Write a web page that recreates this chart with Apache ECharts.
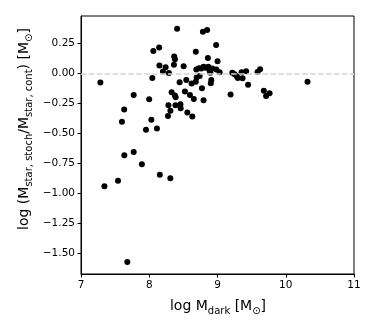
<!DOCTYPE html>
<html>
<head>
<meta charset="utf-8">
<script src="https://cdn.jsdelivr.net/npm/echarts@6/dist/echarts.min.js"></script>
<style>html,body{margin:0;padding:0;background:#fff;}#c{width:374px;height:332px;}</style>
</head>
<body>
<div id="c"></div>
<script>
// log M_dark values
const logMdark = [
  7.284, 8.408, 8.786, 8.848, 8.145, 8.060, 8.980, 8.365, 8.376, 8.682,
  8.859, 9.001, 8.149, 8.240, 8.362, 8.504, 8.201, 8.288, 8.045, 8.445,
  8.543, 8.621, 8.682, 8.694, 8.738, 7.772, 7.999, 8.328, 8.376, 8.387,
  8.523, 8.596, 8.653, 8.772, 8.796, 8.909, 8.902, 7.633, 7.600, 8.281,
  8.310, 8.384, 8.457, 8.460, 8.274, 8.558, 8.631, 8.031, 7.952, 8.113,
  7.635, 7.772, 7.892, 7.542, 7.343, 8.155, 8.309, 7.679, 9.031, 9.217,
  9.250, 9.284, 9.297, 9.353, 9.419, 9.367, 9.448, 9.587, 9.624, 9.192,
  9.679, 9.712, 9.763, 10.319, 8.690, 8.728, 8.763, 8.796, 8.826, 8.865,
  8.884, 8.895, 8.924, 8.982
];
// log(M_star,stoch / M_star,cont) values
const logRatio = [
  -0.075, 0.373, 0.348, 0.364, 0.217, 0.189, 0.239, 0.142, 0.120, 0.183,
  0.131, 0.103, 0.067, 0.053, 0.073, 0.062, 0.017, 0.006, -0.036, -0.072,
  -0.053, -0.082, -0.067, -0.033, -0.019, -0.178, -0.213, -0.155, -0.182, -0.198,
  -0.150, -0.178, -0.211, -0.122, -0.222, -0.053, -0.080, -0.300, -0.401, -0.263,
  -0.309, -0.263, -0.255, -0.288, -0.353, -0.325, -0.358, -0.384, -0.468, -0.458,
  -0.680, -0.653, -0.755, -0.892, -0.938, -0.842, -0.873, -1.569, 0.012, 0.008,
  -0.005, -0.025, -0.036, 0.012, 0.020, -0.038, -0.093, 0.014, 0.037, -0.175,
  -0.142, -0.186, -0.163, -0.067, 0.035, 0.045, 0.042, 0.058, 0.048, 0.058,
  0.025, 0.008, 0.042, 0.035
];
const xTicks = [7, 8, 9, 10, 11];
const yTicks = [-1.5, -1.25, -1.0, -0.75, -0.5, -0.25, 0.0, 0.25];
const refLineY = 0;

const points = logMdark.map((x, i) => [x, logRatio[i]]);
const FONT = 'DejaVu Sans';
const fmtY = v => (v < 0 ? '\u2212' : '') + Math.abs(v).toFixed(2);

const chart = echarts.init(document.getElementById('c'), null, {renderer: 'canvas'});
chart.setOption({
  animation: false,
  backgroundColor: '#fff',
  grid: {left: 81, right: 20, top: 16, bottom: 58, show: true, borderColor: '#000', borderWidth: 1, backgroundColor: 'transparent'},
  xAxis: {
    type: 'value', min: xTicks[0], max: xTicks[xTicks.length - 1], interval: 1,
    splitLine: {show: false},
    axisLine: {show: true, onZero: false, lineStyle: {color: '#000', width: 1}},
    axisTick: {show: true, inside: false, length: 3.5, lineStyle: {color: '#000', width: 1}},
    axisLabel: {color: '#000', fontFamily: FONT, fontSize: 10.5, margin: 6}
  },
  yAxis: {
    type: 'value', min: -1.67, max: 0.48,
    splitLine: {show: false},
    axisLine: {show: true, onZero: false, lineStyle: {color: '#000', width: 1}},
    axisTick: {show: true, inside: false, length: 3.5, lineStyle: {color: '#000', width: 1}, customValues: yTicks},
    axisLabel: {color: '#000', fontFamily: FONT, fontSize: 10.5, margin: 6, customValues: yTicks, formatter: fmtY}
  },
  series: [{
    type: 'scatter',
    data: points,
    symbol: 'circle',
    symbolSize: 6,
    itemStyle: {color: '#000', opacity: 1},
    markLine: {
      silent: true, symbol: 'none', label: {show: false},
      lineStyle: {color: '#d3d3d3', type: [5.5, 2.4], width: 1.5, opacity: 1},
      data: [{yAxis: refLineY}]
    },
    z: 3
  }],
  graphic: [
    {
      type: 'text', x: 218, y: 306,
      style: {
        text: 'log M{sub|dark} [M{sub|\u2299}]',
        align: 'center', verticalAlign: 'middle',
        font: '14px "DejaVu Sans"', fill: '#000',
        rich: {
          sub: {fontFamily: FONT, fontSize: 10, lineHeight: 10, verticalAlign: 'bottom', fill: '#000', padding: [0, 0, -3, 0]}
        }
      }
    },
    {
      type: 'text', x: 24, y: 129, rotation: Math.PI / 2,
      style: {
        text: 'log (M{sub|star, stoch}/M{sub|star, cont}) [M{sub|\u2299}]',
        align: 'center', verticalAlign: 'middle',
        font: '14px "DejaVu Sans"', fill: '#000',
        rich: {
          sub: {fontFamily: FONT, fontSize: 10, lineHeight: 10, verticalAlign: 'bottom', fill: '#000', padding: [0, 0, -3, 0]}
        }
      }
    }
  ]
});
</script>
</body>
</html>
